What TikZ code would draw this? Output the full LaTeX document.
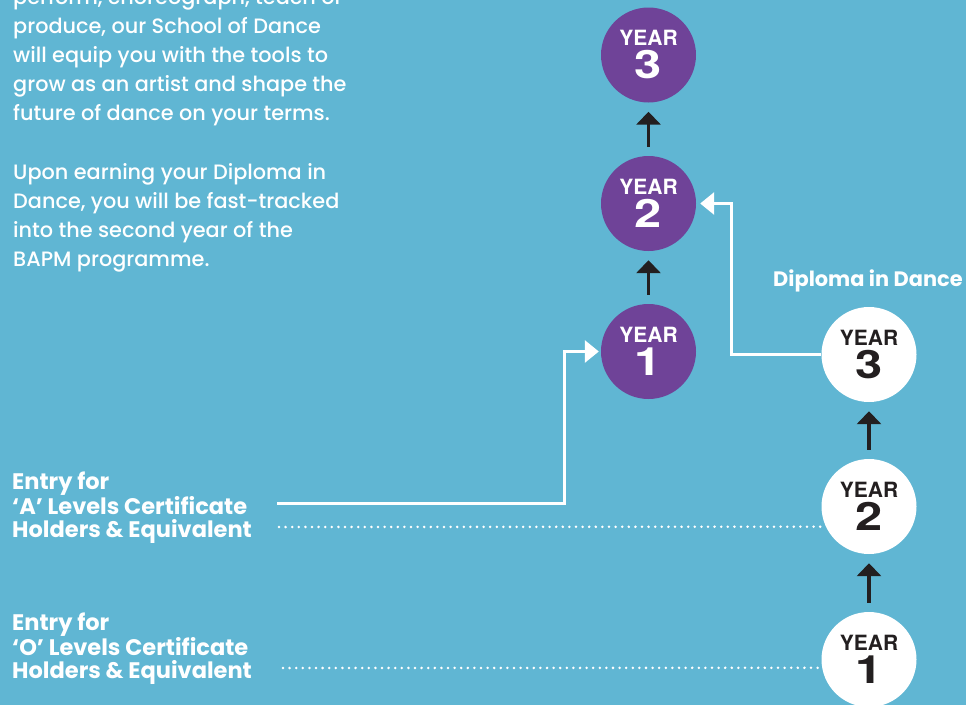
\documentclass[tikz,border=0pt]{standalone}
\usepackage{fontspec}
\usetikzlibrary{arrows.meta}

\newfontfamily\bodyfont{Poppins}[UprightFont={* Medium}, BoldFont={* Bold}]
\newfontfamily\yearfont{TeX Gyre Heros}
\newfontfamily\numfont{TeX Gyre Heros}[FakeStretch=1.25]

\definecolor{dancesky}{RGB}{96,182,211}
\definecolor{dancepurple}{RGB}{111,67,152}
\definecolor{darkink}{RGB}{35,31,32}

\tikzset{
    yearstep/.style={circle, minimum size=95pt, inner sep=0pt, align=center,
        font=\yearfont\bfseries\fontsize{21}{33}\selectfont},
    purplestep/.style={yearstep, fill=dancepurple, text=white},
    whitestep/.style={yearstep, fill=white, text=darkink},
    uparrow/.style={draw=darkink, line width=3.5pt,
        -{Triangle[width=24pt,length=13pt]}, shorten <=9pt, shorten >=9pt},
    routeline/.style={draw=white, line width=3pt,
        -{Triangle[width=22pt,length=14pt]}},
    dotline/.style={draw=white, line width=2.8pt, dash pattern=on 0pt off 6.6pt,
        line cap=round},
    bodytext/.style={anchor=base west, align=left, inner sep=0pt, text=white,
        font=\bodyfont\fontsize{20.8}{29}\selectfont},
    entrytext/.style={anchor=base west, align=left, inner sep=0pt, text=white,
        font=\bodyfont\bfseries\fontsize{22.5}{23}\selectfont}
}

\newcommand{\yearnum}[1]{{\numfont\bfseries\fontsize{39}{33}\selectfont #1}}

\begin{document}
\begin{tikzpicture}[x=1pt, y=-1pt]
    % Background:
    \useasboundingbox (0,0) rectangle (966,705);
    \fill[dancesky] (0,0) rectangle (966,705);

    % Text on the left (placed at the baseline of the last line)
    \node[bodytext] (intro) at (13,120) {perform, choreograph, teach or\\produce, our School of Dance\\will equip you with the tools to\\grow as an artist and shape the\\future of dance on your terms.};
    \node[bodytext] (upon) at (13,266) {Upon earning your Diploma in\\Dance, you will be fast-tracked\\into the second year of the\\BAPM programme.};

    \node[entrytext] (Alab) at (12,537) {Entry for\\‘A’ Levels Certificate\\Holders \& Equivalent};
    \node[entrytext] (Olab) at (12,678) {Entry for\\‘O’ Levels Certificate\\Holders \& Equivalent};

    % Degree years (purple) and diploma years (white)
    \foreach \n/\y in {1/351.5,2/203.5,3/55}
        \node[purplestep] (P\n) at (648.5,\y) {YEAR\\\yearnum{\n}};
    \foreach \n/\y in {1/659.5,2/506.5,3/354.5}
        \node[whitestep] (W\n) at (869,\y) {YEAR\\\yearnum{\n}};

    \node[entrytext, font=\bodyfont\bfseries\fontsize{20.9}{23}\selectfont] (diploma) at (773,286) {Diploma in Dance};

    % Arrows from one year to the next
    \foreach \a/\b in {1/2,2/3}{%
        \draw[uparrow] (P\a) -- (P\b);
        \draw[uparrow] (W\a) -- (W\b);
    }

    % Entry routes
    \coordinate (Astart) at (277,503);
    \coordinate (Acorner) at (564,503);
    \draw[routeline, shorten >=2pt] (Astart) -- (Acorner) |- (P1.west);

    \coordinate (Dcorner) at (731,354.5);
    \draw[routeline, shorten >=4pt] (W3.west) -- (Dcorner) |- (P2.east);

    %dotted lines
    \coordinate (Adot) at (279,527);
    \coordinate (Odot) at (283,668);
    \draw[dotline] (Adot) -- (W2.205);
    \draw[dotline] (Odot) -- (W1.190);
\end{tikzpicture}
\end{document}
